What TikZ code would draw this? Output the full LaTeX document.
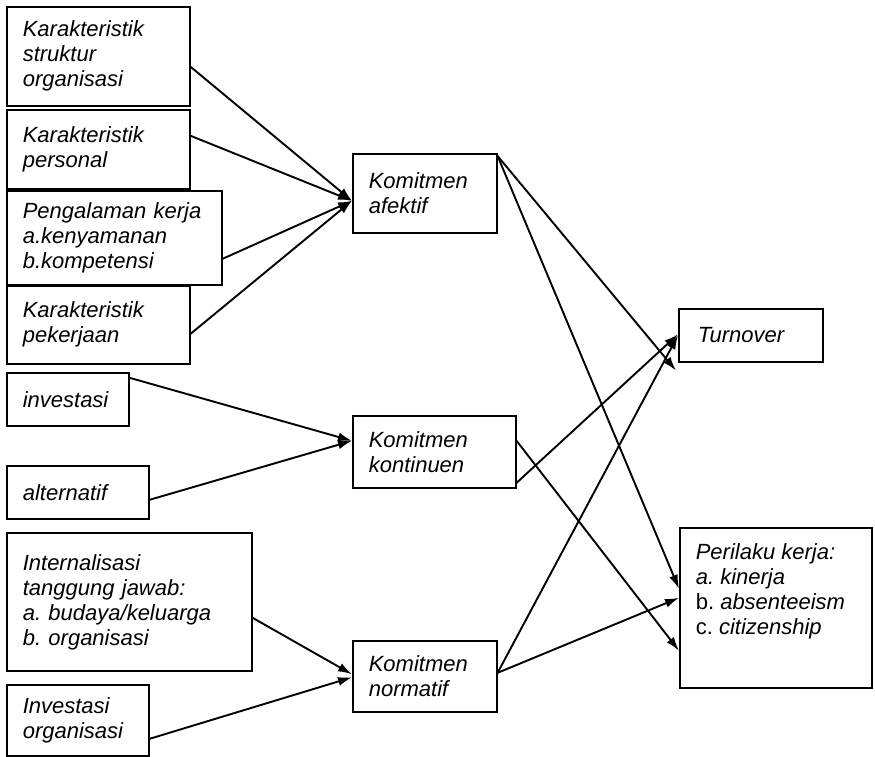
\documentclass[tikz,border=0pt]{standalone}
\usepackage{fontspec}
\setmainfont{Liberation Sans}
\usetikzlibrary{arrows.meta}
\tikzset{
  bx/.style n args={2}{draw, line width=1.6pt, anchor=north west, inner xsep=16pt, inner ysep=0pt,
     align=left, text width=#1pt-32pt, minimum height=#2pt,
     font=\fontsize{22}{25}\selectfont\itshape\frenchspacing},
  conn/.style={line width=1.9pt, -{Latex[length=14pt,width=9pt]}}
}
\begin{document}
\begin{tikzpicture}[x=1pt,y=-1pt]
\useasboundingbox (0,0) rectangle (875,756);
\node[bx={183}{99}] (b1) at (6,6) {Karakteristik\\struktur\\organisasi};
\node[bx={183}{79}] (b2) at (6,109) {Karakteristik\\personal};
\node[bx={215}{94}] (b3) at (6,190) {Pengalaman kerja\\a.kenyamanan\\b.kompetensi};
\node[bx={183}{78}] (b4) at (6,285) {Karakteristik\\pekerjaan};
\node[bx={122}{53}] (b5) at (6,372) {investasi};
\node[bx={142}{53}] (b6) at (6,465) {alternatif};
\node[bx={245}{138}] (b7) at (6,532) {Internalisasi\\tanggung jawab:\\a. budaya/keluarga\\b. organisasi};
\node[bx={142}{71}] (b8) at (6,684) {Investasi\\organisasi};
\node[bx={144}{79}] (afk) at (352,153) {Komitmen\\afektif};
\node[bx={163}{72}] (kon) at (352,415) {Komitmen\\kontinuen};
\node[bx={144}{71}] (nor) at (352,640) {Komitmen\\normatif};
\node[bx={144}{53}, inner xsep=19pt, text width=106pt] (tur) at (678,308) {Turnover};
\node[draw, line width=1.6pt, anchor=north west, inner sep=16pt,
      font=\fontsize{22}{25}\selectfont\itshape\frenchspacing] (per) at (679,527)
  {\parbox[t][128pt][t]{160pt}{\raggedright Perilaku kerja:\\a. kinerja\\{\upshape b.} absenteeism\\{\upshape c.} citizenship}};

\draw[conn] ([yshift=-10.5pt]b1.east) -- ([yshift=-7.5pt]afk.west);
\draw[conn] ([yshift=13.5pt]b2.east) -- ([yshift=-7.5pt]afk.west);
\draw[conn] ([yshift=-21pt]b3.east) -- ([yshift=-7.5pt]afk.west);
\draw[conn] ([yshift=-9pt]b4.east) -- ([yshift=-7.5pt]afk.west);
\draw[conn] ([yshift=21.5pt]b5.east) -- ([yshift=11pt]kon.west);
\draw[conn] ([yshift=-7.5pt]b6.east) -- ([yshift=11pt]kon.west);
\draw[conn] ([yshift=-16pt]b7.east) -- ([yshift=2pt]nor.west);
\draw[conn] ([yshift=-18.5pt]b8.east) -- ([yshift=-1pt]nor.west);
\draw[conn] ([yshift=-3pt]afk.north east) -- ([shift={(-2pt,-8pt)}]tur.south west);
\draw[conn] ([yshift=-3pt]afk.north east) -- ([yshift=19pt]per.west);
\draw[conn] ([yshift=-31pt]kon.east) -- ([yshift=1pt]tur.west);
\draw[conn] ([yshift=11pt]kon.east) -- ([yshift=-43pt]per.west);
\draw[conn] ([yshift=3.5pt]nor.east) -- (tur.west);
\draw[conn] ([yshift=3.5pt]nor.east) -- ([yshift=10pt]per.west);
\end{tikzpicture}
\end{document}
